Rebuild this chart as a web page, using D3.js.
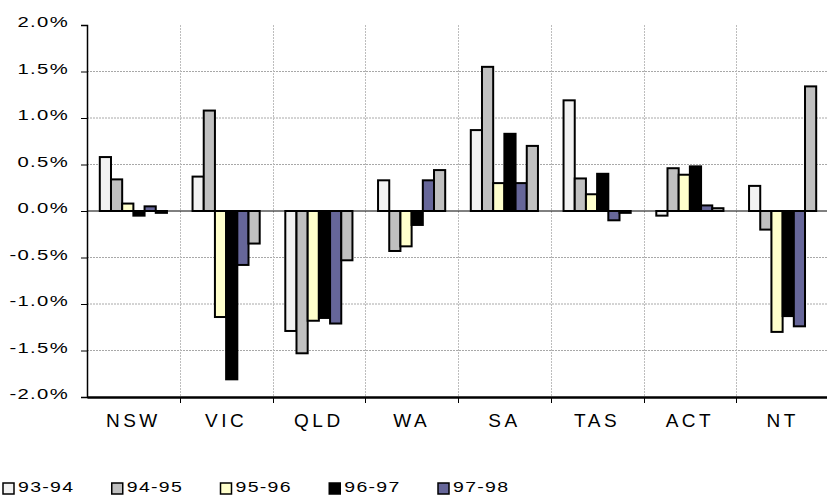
<!DOCTYPE html>
<html><head><meta charset="utf-8">
<script src="https://cdn.jsdelivr.net/npm/d3@7"></script>
<style>
html,body{margin:0;padding:0;background:#fff;}
svg{display:block;}
text{font-family:"Liberation Sans",Arial,sans-serif;fill:#000;}
</style></head>
<body>
<svg id="chart" width="827" height="496"></svg>
<script>
const categories = ["NSW","VIC","QLD","WA","SA","TAS","ACT","NT"];
const seriesNames = ["93-94","94-95","95-96","96-97","97-98","98-99"];
const s9394 = [0.58, 0.37, -1.29, 0.33, 0.87, 1.19, -0.05, 0.27];
const s9495 = [0.34, 1.08, -1.53, -0.43, 1.55, 0.35, 0.46, -0.20];
const s9596 = [0.08, -1.14, -1.18, -0.38, 0.30, 0.18, 0.39, -1.30];
const s9697 = [-0.05, -1.81, -1.15, -0.15, 0.83, 0.40, 0.48, -1.13];
const s9798 = [0.05, -0.58, -1.21, 0.33, 0.30, -0.10, 0.06, -1.24];
const s9899 = [-0.02, -0.35, -0.53, 0.44, 0.70, -0.02, 0.03, 1.34];
const seriesValues = [s9394, s9495, s9596, s9697, s9798, s9899];
const yTicks = [-2.0,-1.5,-1.0,-0.5,0.0,0.5,1.0,1.5,2.0];
const colors = ["#F2F2F2","#C0C0C0","#FFFFCC","#000000","#666699","#C0C0C0"];

const svg = d3.select("#chart");
const pLeft = 87, pRight = 829, pTop = 25, pBottom = 397;
const x = d3.scaleBand().domain(categories).range([pLeft, pRight]).padding(0);
const bw = x.bandwidth();
const groupPad = 12.8;
const xs = d3.scaleBand().domain(seriesNames).range([groupPad, bw - groupPad]).padding(0);
const y = d3.scaleLinear().domain([-2, 2]).range([pBottom, pTop]);

function stretch(sel, sx) {
  sel.each(function() {
    const t = d3.select(this);
    const x0 = +(t.attr("x") || 0);
    t.attr("x", 0).attr("transform", `translate(${x0},0) scale(${sx},1)`);
  });
}

// horizontal gridlines
svg.append("g").selectAll("line").data(yTicks.filter(t => t !== 0 && t > -2 && t < 2)).join("line")
  .attr("x1", pLeft).attr("x2", pRight).attr("y1", d => y(d)).attr("y2", d => y(d))
  .attr("stroke", "#a8a8a8").attr("stroke-width", 1).attr("stroke-dasharray", "2,1");
// vertical gridlines
svg.append("g").selectAll("line").data(categories.slice(1)).join("line")
  .attr("x1", d => Math.round(x(d)) + 0.5).attr("x2", d => Math.round(x(d)) + 0.5)
  .attr("y1", pTop).attr("y2", pBottom)
  .attr("stroke", "#bdbdbd").attr("stroke-width", 1).attr("stroke-dasharray", "2,1");

// bars
seriesNames.forEach((s, i) => {
  svg.append("g").selectAll("rect").data(seriesValues[i]).join("rect")
    .attr("x", (d, j) => x(categories[j]) + xs(s))
    .attr("width", xs.bandwidth())
    .attr("y", d => y(Math.max(0, d)))
    .attr("height", d => Math.abs(y(d) - y(0)))
    .attr("fill", colors[i]).attr("stroke", "#000").attr("stroke-width", 2);
});

// zero line
svg.append("line").attr("x1", pLeft).attr("x2", pRight).attr("y1", y(0)).attr("y2", y(0))
  .attr("stroke", "#000").attr("stroke-width", 1);

// y axis
const yAxis = d3.axisLeft(y).tickValues(yTicks).tickSize(6)
  .tickFormat(d => d.toFixed(1) + "%");
const ya = svg.append("g").attr("transform", `translate(${pLeft},0)`).call(yAxis);
ya.select(".domain").attr("stroke", "#000").attr("stroke-width", 1.5);
ya.selectAll(".tick line").attr("stroke", "#000");
ya.selectAll(".tick").filter(d => d === 2).select("line").remove();
ya.selectAll("text").attr("x", -18).attr("dy", "0.13em")
  .style("font-size", "15px").style("letter-spacing", "1px")
  .style("font-family", "'Liberation Sans', Arial, sans-serif").attr("fill", "#000");
stretch(ya.selectAll("text"), 1.35);

// x axis
const xAxis = d3.axisBottom(x).tickSize(0);
const xa = svg.append("g").attr("transform", `translate(0,${pBottom})`).call(xAxis);
xa.select(".domain").attr("stroke", "#000").attr("stroke-width", 2.5);
xa.selectAll("text").attr("y", 30).attr("dy", 0)
  .style("font-size", "19px").style("letter-spacing", "3.5px")
  .style("font-family", "'Liberation Sans', Arial, sans-serif").attr("fill", "#000");
// category boundary ticks
svg.append("g").selectAll("line").data(categories.slice(1)).join("line")
  .attr("x1", d => Math.round(x(d)) + 0.5).attr("x2", d => Math.round(x(d)) + 0.5)
  .attr("y1", pBottom).attr("y2", pBottom + 6).attr("stroke", "#000").attr("stroke-width", 1);

// legend (five per row; the sixth entry wraps to a row below the visible area)
const legX = d3.scalePoint().domain(seriesNames.slice(0, 5)).range([3, 438]);
const leg = svg.append("g").selectAll("g").data(seriesNames).join("g")
  .attr("transform", (d, i) => i < 5 ? `translate(${legX(d)},483)` : `translate(${legX(seriesNames[0])},510)`);
leg.append("rect").attr("width", 11).attr("height", 11)
  .attr("fill", (d, i) => colors[i]).attr("stroke", "#000").attr("stroke-width", 1.5);
const legText = leg.append("text").attr("x", 15).attr("y", 9).text(d => d)
  .style("font-size", "15px").style("letter-spacing", "1px");
stretch(legText, 1.3);
</script>
</body></html>
